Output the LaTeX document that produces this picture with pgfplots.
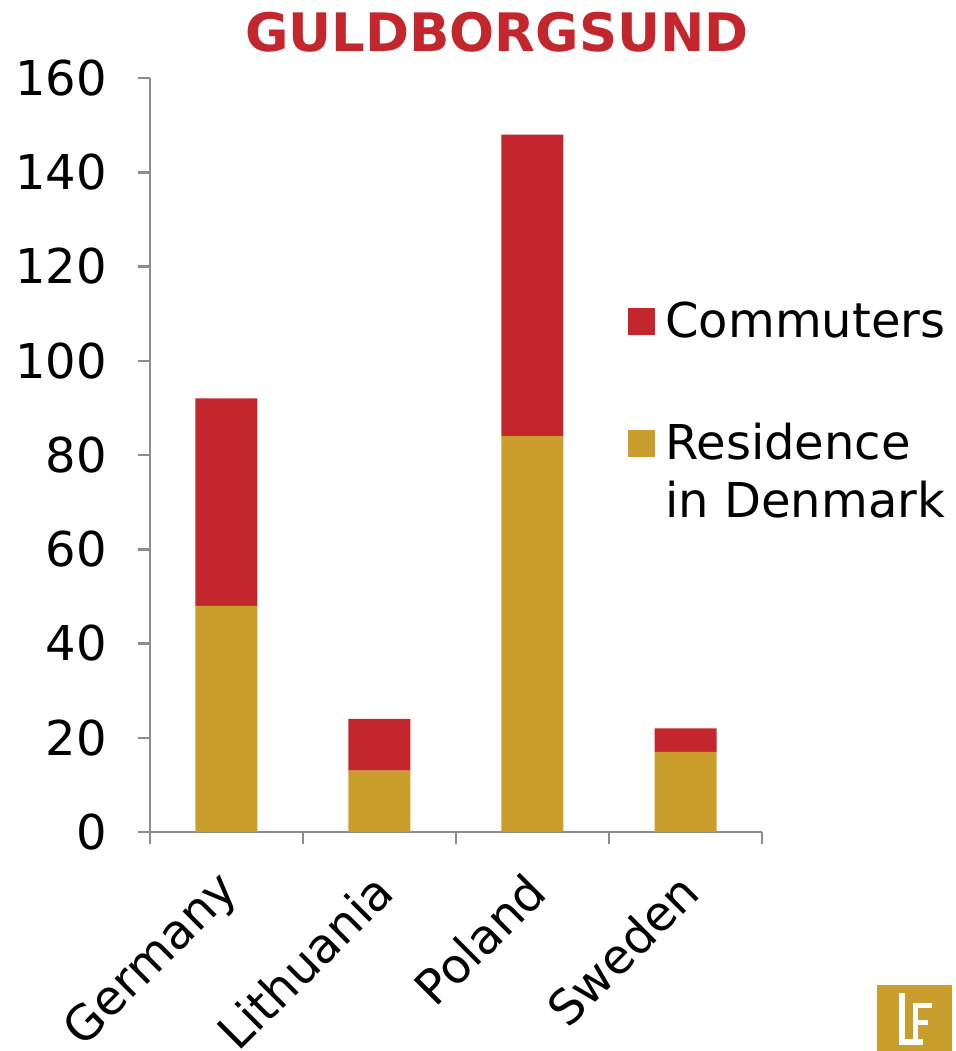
\documentclass[border=0pt]{standalone}
\usepackage{fontspec}
\setmainfont{DejaVu Sans}
\usepackage{pgfplots}
\pgfplotsset{compat=1.18}
\definecolor{cred}{HTML}{C4262E}
\definecolor{cgold}{HTML}{CA9E2C}
\definecolor{caxis}{HTML}{8C8C8C}
\begin{document}
\begin{tikzpicture}
\path[use as bounding box] (-75pt,-109.5pt) rectangle (402.5pt,416pt);
\begin{axis}[
  at={(0pt,0pt)}, anchor=south west,
  scale only axis, width=306pt, height=377pt,
  xmin=-0.5, xmax=3.5, ymin=0, ymax=160,
  ybar stacked, bar width=31pt,
  axis x line*=bottom, axis y line*=left,
  axis line style={caxis, line width=1.25pt},
  tick style={caxis, line width=1.25pt},
  tick align=outside,
  major tick length=6pt, minor tick length=6pt,
  ytick={0,20,...,160},
  xtick={0,1,2,3}, xticklabels={Germany,Lithuania,Poland,Sweden},
  minor xtick={-0.5,0.5,1.5,2.5,3.5},
  major x tick style={draw=none},
  ticklabel style={font=\fontsize{24}{29}\selectfont, text=black},
  /pgf/number format/assume math mode=true,
  yticklabel style={xshift=-12pt},
  xticklabel style={rotate=45, anchor=east, xshift=-8.8pt, yshift=-15.2pt},
  reverse legend, legend cell align=left,
  legend style={at={(0.781,0.7037)}, anchor=north west, draw=none, fill=none,
    inner sep=0pt, column sep=5pt, row sep=43pt,
    nodes={inner sep=0pt, text height=18pt, text depth=0pt, font=\fontsize{24}{29}\selectfont}},
  legend image code/.code={\fill[#1] (0pt,-7.45pt) rectangle (13.5pt,6.05pt);},
]
\addplot[fill=cgold, draw=none] coordinates {(0,48) (1,13) (2,84) (3,17)};
\addlegendentry{\vtop{\hbox{Residence}\hbox{in Denmark}}}
\addplot[fill=cred, draw=none] coordinates {(0,44) (1,11) (2,64) (3,5)};
\addlegendentry{Commuters}
\end{axis}
\node[anchor=base, text=cred, font=\fontsize{26.5}{30}\selectfont\bfseries] at (173.5pt,390pt) {GULDBORGSUND};
\fill[cgold] (363.5pt,-76.5pt) rectangle (401pt,-109.5pt);
\fill[white] (374.5pt,-80.5pt) rectangle (377.5pt,-106.5pt);
\fill[white] (374.5pt,-106.5pt) rectangle (386.5pt,-103.5pt);
\fill[white] (381.5pt,-85.5pt) rectangle (384pt,-104.5pt);
\fill[white] (381.5pt,-85.5pt) rectangle (391pt,-88pt);
\fill[white] (381.5pt,-94pt) rectangle (389pt,-96.5pt);
\end{tikzpicture}
\end{document}
